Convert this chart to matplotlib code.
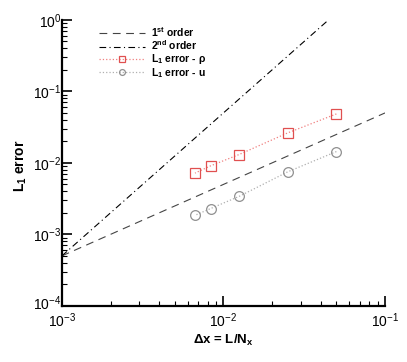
import numpy as np
import matplotlib
matplotlib.use("Agg")
import matplotlib.pyplot as plt
import matplotlib.transforms as mtransforms

plt.rcParams['font.family'] = ['Liberation Sans', 'DejaVu Sans']
plt.rcParams['mathtext.fontset'] = 'custom'
plt.rcParams['mathtext.rm'] = 'Liberation Sans'
plt.rcParams['mathtext.bf'] = 'Liberation Sans:bold'
plt.rcParams['mathtext.default'] = 'regular'

# grid spacing dx = L/Nx
dx = [0.05, 0.025, 0.0125, 1.0 / 120, 1.0 / 150]
err_rho = [0.0484, 0.0263, 0.0131, 0.0091, 0.0072]
err_u = [0.0144, 0.0075, 0.0034, 0.0023, 0.00185]

# reference slopes
ref_x = [1e-3, 1e-1]
first_order = [5e-4, 5e-2]
ref2_x = [1e-3, 0.0447]
second_order = [5e-4, 1.0]

fig = plt.figure(figsize=(4.07, 3.62), dpi=100)
ax = fig.add_axes([0.152, 0.155, 0.794, 0.79])

ax.loglog(ref_x, first_order, color='#444444', lw=0.8, dashes=(7, 5),
          label=r'1$^{st}$ order')
ax.loglog(ref2_x, second_order, color='black', lw=0.8, dashes=(6, 3, 1, 3),
          label=r'2$^{nd}$ order')
ax.loglog(dx, err_rho, ':', color='#f08080', lw=0.9, marker='s', ms=6.5,
          mfc='none', mec='#e05050', mew=0.9, label='L$_1$ error - ρ')
ax.loglog(dx, err_u, ':', color='#b0b0b0', lw=0.9, marker='o', ms=7,
          mfc='none', mec='#909090', mew=0.9, label='L$_1$ error - u')

ax.set_xlim(1e-3, 1e-1)
ax.set_ylim(1e-4, 1e0)

for s in ['top', 'right']:
    ax.spines[s].set_visible(False)
for s in ['left', 'bottom']:
    ax.spines[s].set_linewidth(1.6)

ax.tick_params(which='major', direction='in', length=7, width=1.2,
               labelsize=10)
ax.tick_params(which='minor', direction='in', length=3.5, width=0.8)
ax.tick_params(axis='x', pad=4)
ax.tick_params(axis='y', pad=0.5)

ax.set_xlabel('Δx = L/N$_x$', fontweight='bold', fontsize=9.5, labelpad=2)
ax.set_ylabel('L$_1$ error', fontweight='bold', fontsize=10)
ax.yaxis.set_label_coords(-0.103, 0.49)

leg = ax.legend(loc='upper left', bbox_to_anchor=(0.085, 1.015), frameon=False,
                handlelength=4.4, handletextpad=0.6, labelspacing=-0.02,
                numpoints=1, markerscale=0.6,
                prop={'weight': 'bold', 'size': 7.5})

# nudge the bottom y label up so it clears the first x label
fig.canvas.draw()
for lab in ax.get_yticklabels():
    if lab.get_position()[1] <= 1e-4 * 1.01:
        lab.set_transform(lab.get_transform() +
                          mtransforms.ScaledTranslation(0, 3 / 72, fig.dpi_scale_trans))

fig.savefig('out.png', dpi=100)
